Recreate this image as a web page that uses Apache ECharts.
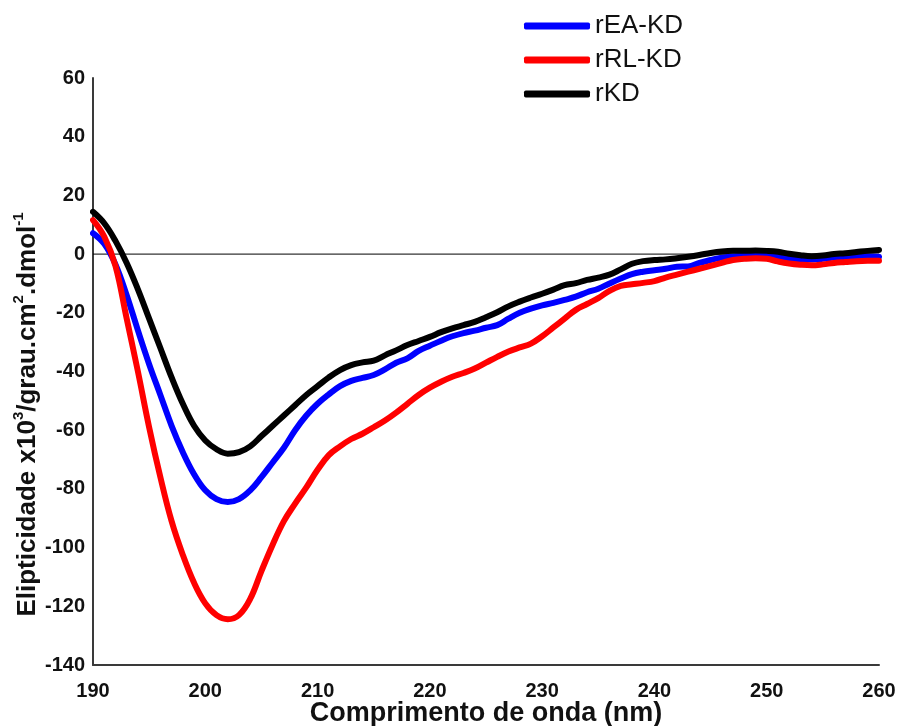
<!DOCTYPE html>
<html>
<head>
<meta charset="utf-8">
<title>Elipticidade</title>
<script src="https://cdn.jsdelivr.net/npm/echarts@6/dist/echarts.min.js"></script>
<style>
  html, body { margin: 0; padding: 0; background: #fff; }
  #chart { width: 898px; height: 726px; }
</style>
</head>
<body>
<div id="chart"></div>
<script>
// Wavelength (nm)
const wavelengths = [
  190, 191, 192, 193, 194, 195, 196, 197, 198, 199,
  200, 201, 202, 203, 204, 205, 206, 207, 208, 209,
  210, 211, 212, 213, 214, 215, 216, 217, 218, 219,
  220, 221, 222, 223, 224, 225, 226, 227, 228, 229,
  230, 231, 232, 233, 234, 235, 236, 237, 238, 239,
  240, 241, 242, 243, 244, 245, 246, 247, 248, 249,
  250, 251, 252, 253, 254, 255, 256, 257, 258, 259,
  260
];

// Ellipticity (x10^3 deg.cm2.dmol-1)
const rEA_KD = [
  7.1, 3.5, -3.5, -14, -26, -37.5, -48, -58.5, -67.5, -75,
  -80.5, -83.5, -84.5, -83.5, -80.5, -76, -71, -66, -60, -55,
  -51, -47.8, -45, -43.2, -42.2, -41.2, -39.3, -37, -35.5, -33,
  -31.2, -29.5, -28, -26.9, -26.1, -25.1, -24.2, -22, -20, -18.6,
  -17.5, -16.6, -15.6, -14.5, -13, -11.8, -10, -8.3, -6.8, -6,
  -5.5, -5, -4.3, -4.2, -3, -2, -1.2, -0.8, -0.5, -0.3,
  -0.4, -0.8, -1.6, -1.8, -1.8, -1.6, -1.2, -1, -0.8, -0.7,
  -0.9
];

const rRL_KD = [
  11.6, 6, -4, -22, -40, -59, -76, -91, -102.5, -112,
  -119, -123, -124.4, -123, -117.5, -108, -99, -91, -85, -79.5,
  -73.5, -68.5, -65.5, -63, -61.2, -59, -56.7, -54, -51, -48,
  -45.5, -43.5, -41.8, -40.5, -39, -37, -35, -33.2, -31.8, -30.5,
  -28, -25, -22, -19, -17, -15, -12.5, -10.8, -10.3, -9.8,
  -9.2, -8, -7, -6, -5, -4, -3, -2, -1.6, -1.4,
  -1.6, -2.5, -3.2, -3.6, -3.8, -3.5, -3, -2.7, -2.4, -2.3,
  -2.3
];

const rKD = [
  14.4, 10.5, 4.5, -3, -12, -22, -32, -42, -51, -58.5,
  -63.5, -66.5, -68, -67.5, -65.5, -62, -58.5, -55, -51.5, -48,
  -45, -42, -39.5, -37.8, -36.9, -36.3, -34.5, -32.8, -31, -29.6,
  -28.2, -26.6, -25.3, -24.2, -23.1, -21.5, -19.8, -17.8, -16.2, -14.8,
  -13.5, -12.1, -10.6, -9.9, -8.8, -8, -7, -5.2, -3.3, -2.4,
  -2, -1.8, -1.4, -0.9, -0.3, 0.4, 0.9, 1.1, 1.1, 1.2,
  1.1, 0.8, 0.1, -0.4, -0.7, -0.5, 0, 0.3, 0.7, 1.1,
  1.4
];

const seriesNames = ['rEA-KD', 'rRL-KD', 'rKD'];
const seriesColors = ['#0000ff', '#ff0000', '#000000'];
const seriesValues = [rEA_KD, rRL_KD, rKD];

const xRange = [190, 260];
const yRange = [-140, 60];

const pairs = (ys) => wavelengths.map((x, i) => [x, ys[i]]);

const chart = echarts.init(document.getElementById('chart'));

const curveSeries = seriesNames.map((name, k) => ({
  name: name,
  type: 'line',
  data: pairs(seriesValues[k]),
  smooth: 0.4,
  showSymbol: false,
  symbol: 'none',
  z: 3 + k,
  lineStyle: { color: seriesColors[k], width: 6, cap: 'round', join: 'round' },
  itemStyle: { color: seriesColors[k] },
  emphasis: { disabled: true }
}));

chart.setOption({
  animation: false,
  backgroundColor: '#ffffff',
  textStyle: { fontFamily: 'Liberation Sans, Arial, sans-serif' },
  grid: { left: 93, right: 19, top: 78, bottom: 61, containLabel: false, outerBoundsMode: 'none' },
  legend: {
    data: seriesNames,
    orient: 'vertical',
    left: 519,
    top: 8,
    itemWidth: 66,
    itemHeight: 7,
    itemGap: 8,
    icon: 'roundRect',
    selectedMode: false,
    textStyle: { fontSize: 26, color: '#111', fontFamily: 'Liberation Sans, Arial, sans-serif' }
  },
  xAxis: {
    type: 'value',
    min: xRange[0],
    max: xRange[1],
    interval: 10,
    name: 'Comprimento de onda (nm)',
    nameLocation: 'middle',
    nameGap: 35,
    nameMoveOverlap: false,
    nameTextStyle: { fontSize: 27, fontWeight: 'bold', color: '#111' },
    axisLine: { show: true, onZero: false, lineStyle: { color: '#3a3a3a', width: 2 } },
    axisTick: { show: false },
    splitLine: { show: false },
    axisLabel: { fontSize: 20, fontWeight: 'bold', color: '#111', margin: 16 }
  },
  yAxis: {
    type: 'value',
    min: yRange[0],
    max: yRange[1],
    interval: 20,
    name: '{a|Elipticidade x10}{s|3}{a|/grau.cm}{s|2}{a|.dmol}{s|-1}',
    nameLocation: 'middle',
    nameRotate: 90,
    nameGap: 52,
    nameMoveOverlap: false,
    nameTextStyle: {
      color: '#111',
      padding: [0, 0, 0, -86],
      rich: {
        a: { fontSize: 26, fontWeight: 'bold', color: '#111', lineHeight: 30, verticalAlign: 'bottom' },
        s: { fontSize: 15, fontWeight: 'bold', color: '#111', lineHeight: 30, verticalAlign: 'top' }
      }
    },
    axisLine: { show: true, onZero: false, lineStyle: { color: '#3a3a3a', width: 2 } },
    axisTick: { show: false },
    splitLine: { show: false },
    axisLabel: { fontSize: 20, fontWeight: 'bold', color: '#111', margin: 8 }
  },
  series: [
    {
      name: 'baseline',
      type: 'line',
      data: [[xRange[0], 0], [xRange[1], 0]],
      showSymbol: false,
      symbol: 'none',
      silent: true,
      z: 1,
      lineStyle: { color: '#000', width: 1 },
      emphasis: { disabled: true }
    }
  ].concat(curveSeries)
});
</script>
</body>
</html>
